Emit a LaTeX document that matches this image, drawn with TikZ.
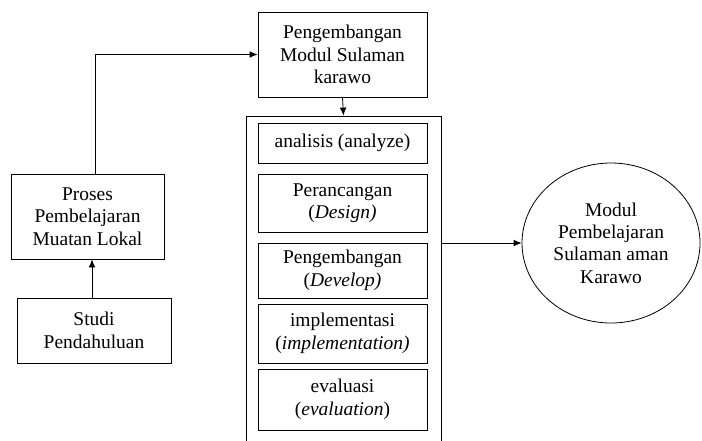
\documentclass[tikz,border=0pt]{standalone}
\usepackage{fontspec}
\setmainfont{Liberation Serif}
\newfontfamily\tnr{Liberation Serif}
\usetikzlibrary{shapes.geometric}
\usetikzlibrary{arrows.meta}
\tikzstyle{kotak}=[draw, line width=0.6pt, align=center, inner sep=2pt, font=\tnr\fontsize{14.6}{16.8}\selectfont]
\tikzstyle{tahap}=[kotak, minimum width=126.75pt]
\tikzstyle{bulat}=[kotak, ellipse, minimum width=133.5pt, minimum height=120pt]
\tikzstyle{panah}=[-{Latex[length=6pt, width=5pt]}, line width=0.6pt]

\begin{document}
\begin{tikzpicture}[x=0.75pt, y=-0.75pt]
        \useasboundingbox (0, 0) rectangle (702, 440);
        \node[tahap, minimum height=63.75pt] (modul) at (342.5, 54.5) {Pengembangan\\Modul Sulaman\\karawo};
        \node[kotak, minimum width=146.25pt, minimum height=250.5pt] (wadah) at (343.5, 283) {};
        \node[tahap, minimum height=30pt] (A1) at (342.5, 143) {analisis (analyze)};
        \node[tahap, minimum height=43.5pt] (A2) at (342.5, 203) {Perancangan\\(\textit{Design)}};
        \node[tahap, minimum height=41.25pt] (A3) at (342.5, 270.5) {Pengembangan\\(\textit{Develop)}};
        \node[tahap, minimum height=44.25pt] (A4) at (342.5, 333.5) {implementasi\\(\textit{implementation)}};
        \node[tahap, minimum height=45.75pt] (A5) at (342.5, 399.5) {evaluasi\\(\textit{evaluation})};
        \node[kotak, minimum width=114.75pt, minimum height=63.75pt] (proses) at (87.5, 216.5) {Proses\\Pembelajaran\\Muatan Lokal};
        \node[kotak, minimum width=115.5pt, minimum height=48.75pt] (studi) at (94, 330.5) {Studi\\Pendahuluan};
        \node[bulat] (hasil) at (611, 243) {Modul\\Pembelajaran\\Sulaman aman\\Karawo};
        \draw[panah] (studi.north -| 92, 0) -- (proses.south -| 92, 0);
        \draw[panah] (proses.north -| 95, 0) |- (modul.west);
        \draw[panah] (modul.south) -- (wadah.north);
        \draw[panah] (wadah.east |- hasil.west) -- (hasil.west);
    \end{tikzpicture}
\end{document}
